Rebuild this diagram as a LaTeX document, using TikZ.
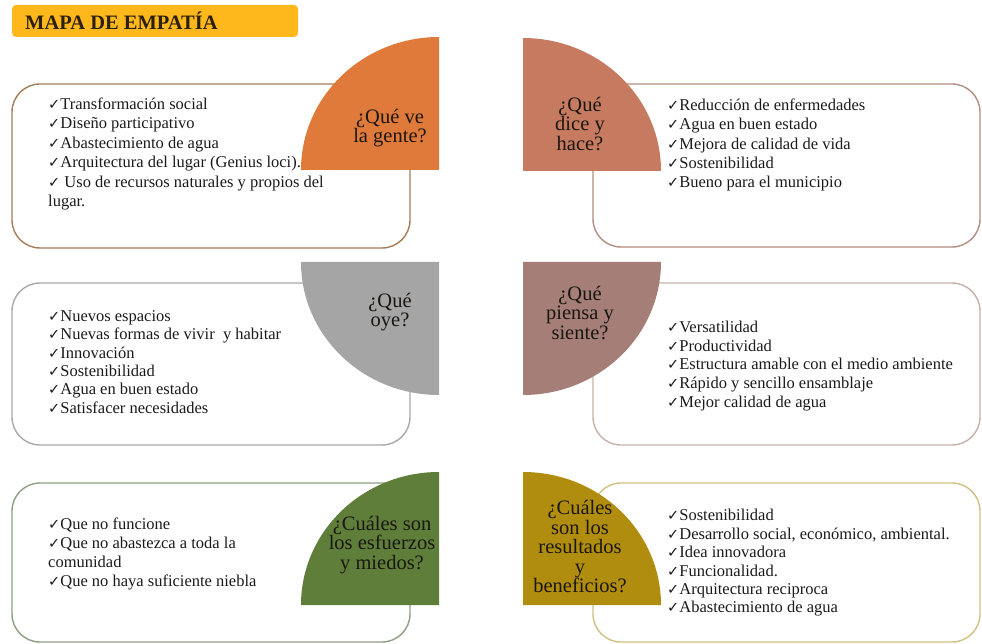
\documentclass[tikz,border=0pt]{standalone}
\usepackage{fontspec}
\setmainfont{Liberation Serif}
\newfontfamily\symfont{DejaVu Sans}
\newcommand{\ck}{{\symfont\fontsize{14.5}{14.5}\selectfont ✓}}
\definecolor{titlefill}{HTML}{FFB81C}
\definecolor{titletext}{HTML}{2B2010}
\definecolor{qorange}{HTML}{E07A3A}
\definecolor{qterra}{HTML}{C67A5F}
\definecolor{qgray}{HTML}{A5A5A5}
\definecolor{qmauve}{HTML}{A57E78}
\definecolor{qgreen}{HTML}{5E7E3A}
\definecolor{qgold}{HTML}{B08D0E}
\definecolor{bbrown}{HTML}{A47C58}
\definecolor{btaupe}{HTML}{B48E80}
\definecolor{bgray}{HTML}{A8A8A8}
\definecolor{bmauve}{HTML}{C8B0AA}
\definecolor{bgreen}{HTML}{8E9E82}
\definecolor{bkhaki}{HTML}{D2C082}
\definecolor{itemtext}{HTML}{1A1A1A}
\definecolor{qtext}{HTML}{1A1610}
\begin{document}
\begin{tikzpicture}[x=1pt,y=-1pt,
  box/.style={line width=1.4pt, rounded corners=28pt},
  qlabel/.style={align=center, font=\fontsize{20.5}{19.5}\selectfont, text=qtext, inner sep=0pt},
  items/.style={align=left, anchor=west, font=\fontsize{16.5}{19.4}\selectfont, text=itemtext, inner sep=0pt}]
\useasboundingbox (0,0) rectangle (982,644);

% title
\fill[titlefill, rounded corners=4pt] (12,5) rectangle (298,37);
\node[anchor=west, inner sep=0pt, text=titletext, font=\fontsize{20.5}{20.5}\selectfont\bfseries] (title) at (25,21) {MAPA DE EMPATÍA};

% boxes
\draw[box, draw=bbrown] (12,84) rectangle (410,248);
\draw[box, draw=btaupe] (593,84) rectangle (980,247);
\draw[box, draw=bgray] (12,283) rectangle (410,445);
\draw[box, draw=bmauve] (593,283) rectangle (980,445);
\draw[box, draw=bgreen] (12,483) rectangle (410,642);
\draw[box, draw=bkhaki] (593,483) rectangle (980,642);

% quarter circles
\fill[qorange] (301,170) arc[start angle=180, end angle=270, x radius=138, y radius=133] -- (439,170) -- cycle;
\fill[qterra] (661,171) arc[start angle=0, end angle=-90, x radius=138, y radius=133] -- (523,171) -- cycle;
\fill[qgray] (301,262) arc[start angle=180, end angle=90, x radius=138, y radius=133] -- (439,262) -- cycle;
\fill[qmauve] (661,262) arc[start angle=0, end angle=90, x radius=138, y radius=133] -- (523,262) -- cycle;
\fill[qgreen] (301,605) arc[start angle=180, end angle=270, x radius=138, y radius=133] -- (439,605) -- cycle;
\fill[qgold] (661,605) arc[start angle=0, end angle=-90, x radius=138, y radius=133] -- (523,605) -- cycle;

% quarter labels
\node[qlabel] (l1) at (390,128) {¿Qué ve\\la gente?};
\node[qlabel] (l2) at (580,124) {¿Qué\\dice y\\hace?};
\node[qlabel] (l3) at (390,312) {¿Qué\\oye?};
\node[qlabel] (l4) at (580,313) {¿Qué\\piensa y\\siente?};
\node[qlabel] (l5) at (382,545) {¿Cuáles son\\los esfuerzos\\y miedos?};
\node[qlabel] (l6) at (580,547) {¿Cuáles\\son los\\resultados\\y\\beneficios?};

% items
\node[items] (i1) at (48,154) {\ck Transformación social\\\ck Diseño participativo\\\ck Abastecimiento de agua\\\ck Arquitectura del lugar (Genius loci).\\\ck\ Uso de recursos naturales y propios del\\lugar.};
\node[items] (i2) at (667,145) {\ck Reducción de enfermedades\\\ck Agua en buen estado\\\ck Mejora de calidad de vida\\\ck Sostenibilidad\\\ck Bueno para el municipio};
\node[items, font=\fontsize{16.5}{18.4}\selectfont] (i3) at (48,362) {\ck Nuevos espacios\\\ck Nuevas formas de vivir~ y habitar\\\ck Innovación\\\ck Sostenibilidad\\\ck Agua en buen estado\\\ck Satisfacer necesidades};
\node[items, font=\fontsize{16.5}{18.6}\selectfont] (i4) at (667,366) {\ck Versatilidad\\\ck Productividad\\\ck Estructura amable con el medio ambiente\\\ck Rápido y sencillo ensamblaje\\\ck Mejor calidad de agua};
\node[items, font=\fontsize{16.5}{18.7}\selectfont] (i5) at (48,554) {\ck Que no funcione\\\ck Que no abastezca a toda la\\comunidad\\\ck Que no haya suficiente niebla};
\node[items, font=\fontsize{16.5}{18.4}\selectfont] (i6) at (667,563) {\ck Sostenibilidad\\\ck Desarrollo social, económico, ambiental.\\\ck Idea innovadora\\\ck Funcionalidad.\\\ck Arquitectura reciproca\\\ck Abastecimiento de agua};
\end{tikzpicture}
\end{document}
